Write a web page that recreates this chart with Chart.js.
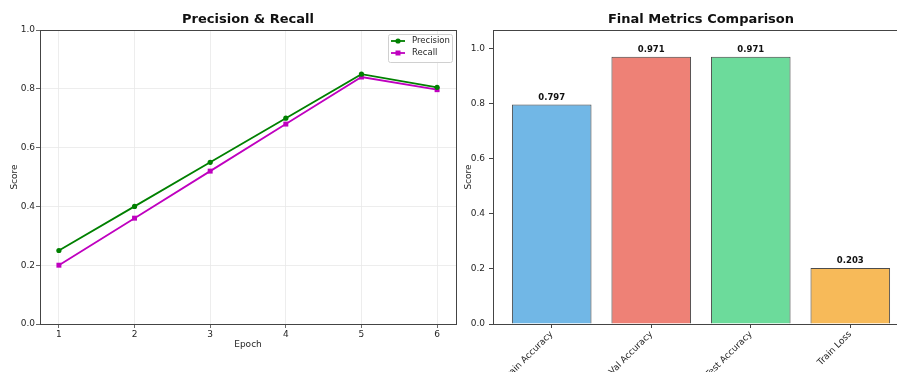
<!DOCTYPE html>
<html>
<head>
<meta charset="utf-8">
<script src="https://cdn.jsdelivr.net/npm/chart.js@4.4.0/dist/chart.umd.min.js"></script>
<style>
  html, body { margin: 0; padding: 0; background: #fff; overflow: hidden; width: 897px; height: 372px; }
  #left { position: absolute; left: 0; top: 0; }
  #right { position: absolute; left: 440px; top: 0; }
</style>
</head>
<body>
<canvas id="left" width="460" height="372"></canvas>
<canvas id="right" width="480" height="372"></canvas>
<script>
// Precision & Recall per epoch
const epochs = [1, 2, 3, 4, 5, 6];
const precision = [0.25, 0.40, 0.55, 0.70, 0.85, 0.805];
const recall = [0.20, 0.36, 0.52, 0.68, 0.84, 0.797];

// Final metrics
const metricNames = ['Train Accuracy', 'Val Accuracy', 'Test Accuracy', 'Train Loss'];
const metricValues = [0.797, 0.971, 0.971, 0.203];
const metricColors = ['rgba(52,152,219,0.7)', 'rgba(231,76,60,0.7)', 'rgba(46,204,113,0.7)', 'rgba(243,156,18,0.7)'];

const FONT = "'DejaVu Sans', sans-serif";
Chart.defaults.font.family = FONT;
Chart.defaults.color = '#262626';
Chart.defaults.animation = false;

// draw the axes frame (all four spines)
const framePlugin = {
    id: 'frame',
    afterDraw(chart) {
        const a = chart.chartArea, ctx = chart.ctx;
        ctx.save();
        ctx.strokeStyle = '#444';
        ctx.lineWidth = 1;
        ctx.strokeRect(Math.round(a.left) + 0.5, Math.round(a.top) + 0.5,
            Math.round(a.right - a.left), Math.round(a.bottom - a.top));
        ctx.restore();
    }
};

// matplotlib-like legend box with line + marker handles
const mplLegend = {
    id: 'mplLegend',
    afterDraw(chart) {
        const a = chart.chartArea, ctx = chart.ctx;
        const w = 64, h = 28;
        const x0 = a.right - 4 - w, y0 = a.top + 4;
        ctx.save();
        ctx.fillStyle = 'rgba(255,255,255,0.85)';
        ctx.strokeStyle = '#d0d0d0';
        ctx.lineWidth = 1;
        ctx.beginPath();
        ctx.roundRect(x0 + 0.5, y0 + 0.5, w, h, 2);
        ctx.fill();
        ctx.stroke();
        chart.data.datasets.forEach((ds, i) => {
            const y = y0 + 7 + i * 12;
            ctx.strokeStyle = ds.borderColor;
            ctx.lineWidth = 1.8;
            ctx.beginPath();
            ctx.moveTo(x0 + 3, y);
            ctx.lineTo(x0 + 17, y);
            ctx.stroke();
            ctx.fillStyle = ds.borderColor;
            if (ds.pointStyle === 'rect') {
                ctx.fillRect(x0 + 10 - 2.5, y - 2.5, 5, 5);
            } else {
                ctx.beginPath();
                ctx.arc(x0 + 10, y, 2.6, 0, Math.PI * 2);
                ctx.fill();
            }
            ctx.fillStyle = '#262626';
            ctx.font = "8.5px " + FONT;
            ctx.textBaseline = 'middle';
            ctx.textAlign = 'left';
            ctx.fillText(ds.label, x0 + 24, y);
        });
        ctx.restore();
    }
};

// value labels above the bars
const barLabels = {
    id: 'barLabels',
    afterDatasetsDraw(chart) {
        const ctx = chart.ctx;
        const meta = chart.getDatasetMeta(0);
        ctx.save();
        ctx.font = "bold 8.5px " + FONT;
        ctx.fillStyle = '#111';
        ctx.textAlign = 'center';
        ctx.textBaseline = 'bottom';
        meta.data.forEach((bar, i) => {
            ctx.fillText(metricValues[i].toFixed(3), bar.x, bar.y - 3);
        });
        ctx.restore();
    }
};

const titleOpts = (text) => ({
    display: true,
    text: text,
    fullSize: false,
    color: '#111',
    font: { size: 13, weight: 'bold', lineHeight: 1.2 },
    padding: { top: 12, bottom: 2.4 }
});

new Chart(document.getElementById('left'), {
    type: 'line',
    data: {
        datasets: [
            {
                label: 'Precision',
                data: epochs.map((e, i) => ({ x: e, y: precision[i] })),
                borderColor: '#008000',
                backgroundColor: '#008000',
                borderWidth: 1.8,
                pointStyle: 'circle',
                pointRadius: 2.6,
                pointBorderWidth: 0,
                tension: 0
            },
            {
                label: 'Recall',
                data: epochs.map((e, i) => ({ x: e, y: recall[i] })),
                borderColor: '#bf00bf',
                backgroundColor: '#bf00bf',
                borderWidth: 1.8,
                pointStyle: 'rect',
                pointRadius: 3.5,
                pointBorderWidth: 0,
                tension: 0
            }
        ]
    },
    options: {
        responsive: false,
        layout: { padding: { left: 0, right: 4, top: 0, bottom: 0 } },
        plugins: {
            legend: { display: false },
            tooltip: { enabled: false },
            title: titleOpts('Precision & Recall')
        },
        scales: {
            x: {
                type: 'linear',
                min: 0.75,
                max: 6.25,
                border: { display: false },
                grid: { color: '#e8e8e8', lineWidth: 0.8, tickColor: '#444', tickLength: 4 },
                ticks: { stepSize: 1, includeBounds: false, padding: 1, font: { size: 9 }, maxRotation: 0 },
                title: { display: true, text: 'Epoch', font: { size: 9, lineHeight: 1.2 }, padding: { top: 0, bottom: 21.6 } },
                afterFit(scale) { scale.height = 48; }
            },
            y: {
                min: 0,
                max: 1,
                border: { display: false },
                grid: { color: '#e8e8e8', lineWidth: 0.8, tickColor: '#444', tickLength: 4 },
                ticks: { stepSize: 0.2, padding: 1, font: { size: 9 }, callback: v => v.toFixed(1) },
                title: { display: true, text: 'Score', font: { size: 9, lineHeight: 1.2 }, padding: { top: 9.6, bottom: 0 } },
                afterFit(scale) { scale.width = 40; }
            }
        }
    },
    plugins: [framePlugin, mplLegend]
});

new Chart(document.getElementById('right'), {
    type: 'bar',
    data: {
        datasets: [{
            label: 'Final Metrics',
            data: metricNames.map((n, i) => ({ x: i, y: metricValues[i] })),
            backgroundColor: metricColors,
            borderColor: 'rgba(0,0,0,0.7)',
            borderWidth: 1,
            barPercentage: 0.8,
            categoryPercentage: 1.0
        }]
    },
    options: {
        responsive: false,
        layout: { padding: { left: 0, right: 11, top: 0, bottom: 0 } },
        plugins: {
            legend: { display: false },
            tooltip: { enabled: false },
            title: titleOpts('Final Metrics Comparison')
        },
        scales: {
            x: {
                type: 'linear',
                min: -0.59,
                max: 3.59,
                offset: false,
                border: { display: false },
                grid: { display: true, offset: false, drawOnChartArea: false, tickColor: '#444', tickLength: 4 },
                ticks: {
                    stepSize: 1,
                    includeBounds: false,
                    padding: 1,
                    font: { size: 9 },
                    minRotation: 45,
                    maxRotation: 45,
                    autoSkip: false,
                    callback: v => metricNames[v] ?? ''
                },
                afterFit(scale) { scale.height = 48; }
            },
            y: {
                min: 0,
                max: 1.068,
                border: { display: false },
                grid: { display: true, drawOnChartArea: false, tickColor: '#444', tickLength: 4 },
                ticks: { stepSize: 0.2, includeBounds: false, padding: 4, font: { size: 9 }, callback: v => v.toFixed(1) },
                title: { display: true, text: 'Score', font: { size: 9, lineHeight: 1.2 }, padding: { top: 22.9, bottom: 0 } },
                afterFit(scale) { scale.width = 53; }
            }
        }
    },
    plugins: [framePlugin, barLabels]
});
</script>
</body>
</html>
